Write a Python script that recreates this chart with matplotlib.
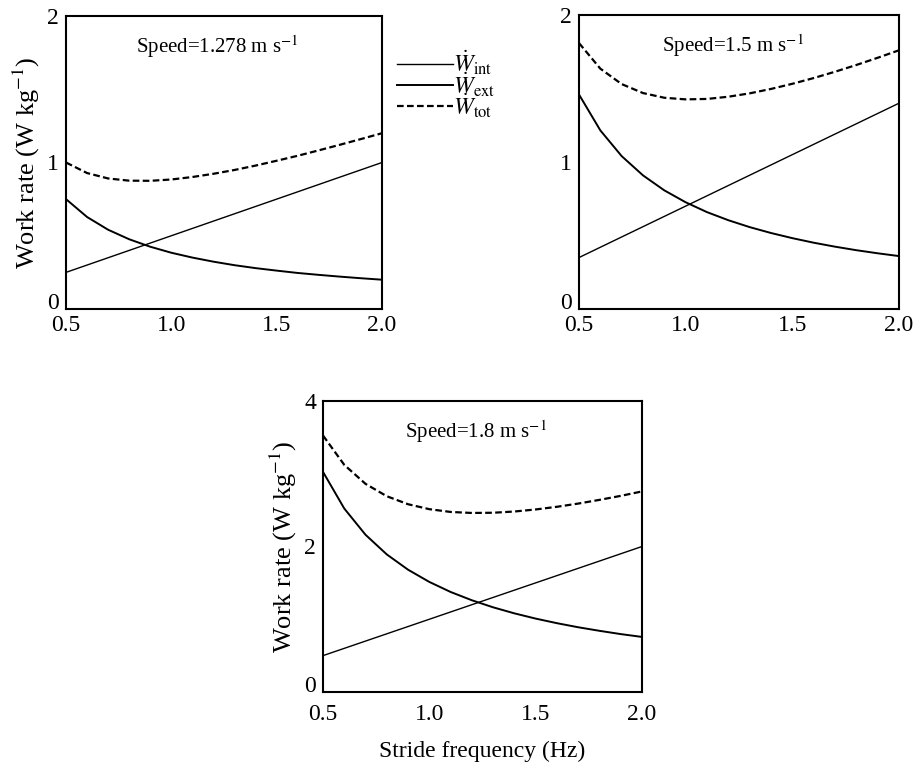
import numpy as np
import matplotlib
matplotlib.use('Agg')
import matplotlib.pyplot as plt

plt.rcParams['font.family'] = ['Liberation Serif', 'DejaVu Serif']
plt.rcParams['mathtext.fontset'] = 'stix'

# stride frequency (Hz)
freq = [0.5, 0.6, 0.7, 0.8, 0.9, 1.0, 1.1, 1.2, 1.3, 1.4, 1.5, 1.6, 1.7, 1.8, 1.9, 2.0]

# speed 1.278 m/s
w_int_1 = [0.25, 0.30, 0.35, 0.40, 0.45, 0.50, 0.55, 0.60, 0.65, 0.70, 0.75, 0.80, 0.85, 0.90, 0.95, 1.00]
w_ext_1 = [0.750, 0.628, 0.541, 0.476, 0.425, 0.384, 0.351, 0.323, 0.299, 0.279, 0.262, 0.246, 0.233, 0.221, 0.210, 0.200]
w_tot_1 = [1.000, 0.928, 0.891, 0.876, 0.875, 0.884, 0.901, 0.923, 0.949, 0.979, 1.012, 1.046, 1.083, 1.121, 1.160, 1.200]

# speed 1.5 m/s
w_int_2 = [0.35, 0.42, 0.49, 0.56, 0.63, 0.70, 0.77, 0.84, 0.91, 0.98, 1.05, 1.12, 1.19, 1.26, 1.33, 1.40]
w_ext_2 = [1.459, 1.215, 1.040, 0.909, 0.807, 0.726, 0.659, 0.604, 0.557, 0.517, 0.482, 0.451, 0.424, 0.400, 0.379, 0.360]
w_tot_2 = [1.809, 1.635, 1.530, 1.469, 1.437, 1.426, 1.429, 1.444, 1.467, 1.497, 1.532, 1.571, 1.614, 1.660, 1.709, 1.760]

# speed 1.8 m/s
w_int_3 = [0.5, 0.6, 0.7, 0.8, 0.9, 1.0, 1.1, 1.2, 1.3, 1.4, 1.5, 1.6, 1.7, 1.8, 1.9, 2.0]
w_ext_3 = [3.026, 2.522, 2.161, 1.891, 1.681, 1.513, 1.375, 1.261, 1.164, 1.081, 1.009, 0.946, 0.890, 0.841, 0.796, 0.757]
w_tot_3 = [3.526, 3.122, 2.861, 2.691, 2.581, 2.513, 2.475, 2.461, 2.464, 2.481, 2.509, 2.546, 2.590, 2.641, 2.696, 2.757]

speeds = ['1.278', '1.5', '1.8']
yticks = [[0, 1, 2], [0, 1, 2], [0, 2, 4]]
xticks = [0.5, 1.0, 1.5, 2.0]

W, H = 921, 772
fig = plt.figure(figsize=(W / 100, H / 100), dpi=100)


def px_axes(l, t, r, b):
    return fig.add_axes([l / W, 1 - b / H, (r - l) / W, (b - t) / H])


axs = [px_axes(66, 16, 382, 309), px_axes(579, 15, 899, 309), px_axes(323, 401, 642, 692)]
data = [(w_int_1, w_ext_1, w_tot_1), (w_int_2, w_ext_2, w_tot_2), (w_int_3, w_ext_3, w_tot_3)]
xpads = [4, 4, 9]

for i, ax in enumerate(axs):
    wi, we, wt = data[i]
    l1, = ax.plot(freq, wi, color='black', lw=1.0)
    l2, = ax.plot(freq, we, color='black', lw=1.4)
    l3, = ax.plot(freq, wt, color='black', lw=1.6, ls=(0, (3, 1.5)))
    ax.set_xlim(0.5, 2.0)
    ax.set_ylim(yticks[i][0], yticks[i][-1])
    ax.set_xticks(xticks)
    ax.set_xticklabels(['0.5', '1.0', '1.5', '2.0'])
    ax.set_yticks(yticks[i])
    ax.set_yticklabels([str(v) for v in yticks[i]])
    ax.get_yticklabels()[0].set_va('baseline')
    ax.tick_params(length=0, labelsize=17)
    ax.tick_params(axis='x', pad=xpads[i])
    ax.tick_params(axis='y', pad=5)
    for s in ax.spines.values():
        s.set_linewidth(1.5)
    ax.text(0.48, 0.895, 'Speed=' + speeds[i] + r' m s$^{-1}$', transform=ax.transAxes,
            ha='center', va='center', fontsize=15)
    if i != 1:
        ax.set_ylabel(r'Work rate (W kg$^{-1}$)', fontsize=19, labelpad=4)
    if i == 0:
        handles = [l1, l2, l3]

axs[2].set_xlabel('Stride frequency (Hz)', fontsize=17, labelpad=11)

fig.legend(handles, [r'$\dot{W}_{\rm int}$', r'$\dot{W}_{\rm ext}$', r'$\dot{W}_{\rm tot}$'],
           loc='upper left', bbox_to_anchor=(397 / W, 1 - 49 / H), frameon=False,
           fontsize=17, handlelength=2.37, handletextpad=0.0, labelspacing=-0.3,
           borderaxespad=0, borderpad=0)

fig.savefig('out.png', dpi=100)
